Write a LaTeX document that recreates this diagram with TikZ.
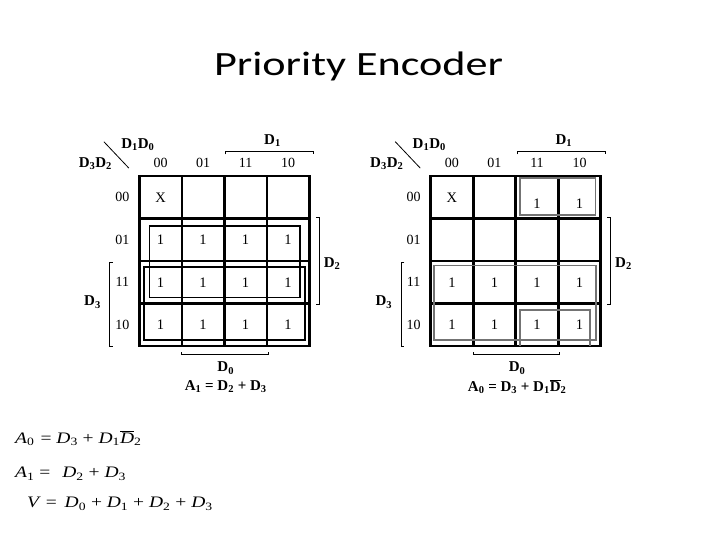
\documentclass[tikz,border=0pt]{standalone}
\usepackage{fontspec}
\setmainfont{Liberation Serif}
\newfontfamily\titlefont{Carlito}[FakeStretch=1.3]
\newfontfamily\eqfont{Liberation Serif}[FakeStretch=1.22]
\newcommand{\ivar}[2]{\textit{#1}\textsubscript{#2}}
\usetikzlibrary{calc,positioning}
\tikzset{
  kcell/.style={
    draw,
    line width=2.6pt,
    minimum size=1.5cm,
    inner sep=0pt
  },
  val/.style={
    inner sep=0pt,
    font=\fontsize{14.5bp}{16bp}\selectfont
  },
  lbl/.style={
    inner sep=1pt,
    font=\fontsize{14bp}{16bp}\selectfont
  },
  dlbl/.style={
    inner sep=1pt,
    font=\fontsize{15bp}{17bp}\selectfont\bfseries
  },
  brace/.style={
    line width=0.8pt
  },
  group/.style={
    line width=1.6pt
  },
  groupg/.style={
    line width=1.6pt,
    draw=black!55
  },
  eqn/.style={
    anchor=base west,
    inner sep=0pt,
    font=\eqfont\fontsize{16bp}{18bp}\selectfont
  }
}

\begin{document}
\begin{tikzpicture}
  \useasboundingbox (0,0) rectangle (25.4,-19.05);
  \node[anchor=base, font=\titlefont\fontsize{34bp}{40bp}\selectfont] (title) at (12.65,-2.646) {Priority Encoder};

  \foreach \m/\x in {L/4.914, R/15.194}{
    \begin{scope}[shift={(\x,-6.209)}]
      \foreach \r/\rl in {0/00,1/01,2/11,3/10}{
        \foreach \c in {0,...,3}
          \node[kcell] (\m-\r-\c) at (0.75+1.5*\c,-0.75-1.5*\r) {};
        \node[lbl] (\m-row\r) at (-0.6,-0.75-1.5*\r) {\rl};
        \node[lbl] (\m-col\r) at (0.75+1.5*\r,0.45) {\rl};
      }
      \draw[brace] (-1.25,1.21) -- (-0.37,0.28);
      \node[dlbl] (\m-top) at (-0.05,1.12) {D\textsubscript{1}D\textsubscript{0}};
      \node[dlbl] (\m-side) at (-1.55,0.45) {D\textsubscript{3}D\textsubscript{2}};
      \draw[brace] (3.05,0.76) |- (6.15,0.86) -- (6.15,0.76);
      \node[dlbl] (\m-d1) at (4.7,1.25) {D\textsubscript{1}};
      \draw[brace] (6.23,-1.47) -| (6.35,-4.53) -- (6.23,-4.53);
      \node[dlbl] (\m-d2) at (6.8,-3.1) {D\textsubscript{2}};
      \draw[brace] (-0.93,-3.06) -| (-1.05,-6.0) -- (-0.93,-6.0);
      \node[dlbl] (\m-d3) at (-1.65,-4.45) {D\textsubscript{3}};
      \draw[brace] (1.5,-6.21) |- (4.55,-6.31) -- (4.55,-6.21);
      \node[dlbl] (\m-d0) at (3.05,-6.78) {D\textsubscript{0}};
    \end{scope}
  }

  \begin{scope}[shift={(4.914,-6.209)}]
    \node[val] (L-x) at (L-0-0) {X};
    \foreach \r in {1,2,3}
      \foreach \c in {0,...,3}
        \node[val] (L-v\r\c) at (L-\r-\c) {1};
    \draw[group] (0.353,-1.764) rectangle (5.669,-4.293);
    \draw[group] (0.166,-3.2) rectangle (5.856,-5.786);
    \node[dlbl] (L-eq) at ($(L-d0)+(0,-0.65)$) {A\textsubscript{1} = D\textsubscript{2} + D\textsubscript{3}};
  \end{scope}

  \begin{scope}[shift={(15.194,-6.209)}]
    \node[val] (R-x) at (R-0-0) {X};
    \foreach \c in {2,3}
      \node[val, yshift=-0.22cm] (R-v0\c) at (R-0-\c) {1};
    \foreach \r in {2,3}
      \foreach \c in {0,...,3}
        \node[val] (R-v\r\c) at (R-\r-\c) {1};
    \draw[groupg] (3.15,-0.08) rectangle (5.82,-1.376);
    \draw[groupg] (0.116,-3.164) rectangle (5.83,-5.786);
    \draw[groupg] (3.15,-6) |- (5.62,-4.73) -- (5.62,-6);
    \node[dlbl] (R-eq) at ($(R-d0)+(0,-0.65)$) {A\textsubscript{0} = D\textsubscript{3} + D\textsubscript{1}$\overline{\mbox{D}}$\textsubscript{2}};
  \end{scope}

  \node[eqn] (eqa0) at (0.53,-15.63) {\ivar{A}{0}\hspace{6bp}= \ivar{D}{3} + \ivar{D}{1}$\overline{\mbox{\textit{D}}}$\textsubscript{2}};
  \node[eqn] (eqa1) at (0.53,-16.86) {\ivar{A}{1} =\hspace{7bp} \ivar{D}{2} + \ivar{D}{3}};
  \node[eqn] (eqv) at (0.95,-17.92) {\textit{V} =\hspace{3bp} \ivar{D}{0} + \ivar{D}{1} + \ivar{D}{2} + \ivar{D}{3}};
\end{tikzpicture}
\end{document}
